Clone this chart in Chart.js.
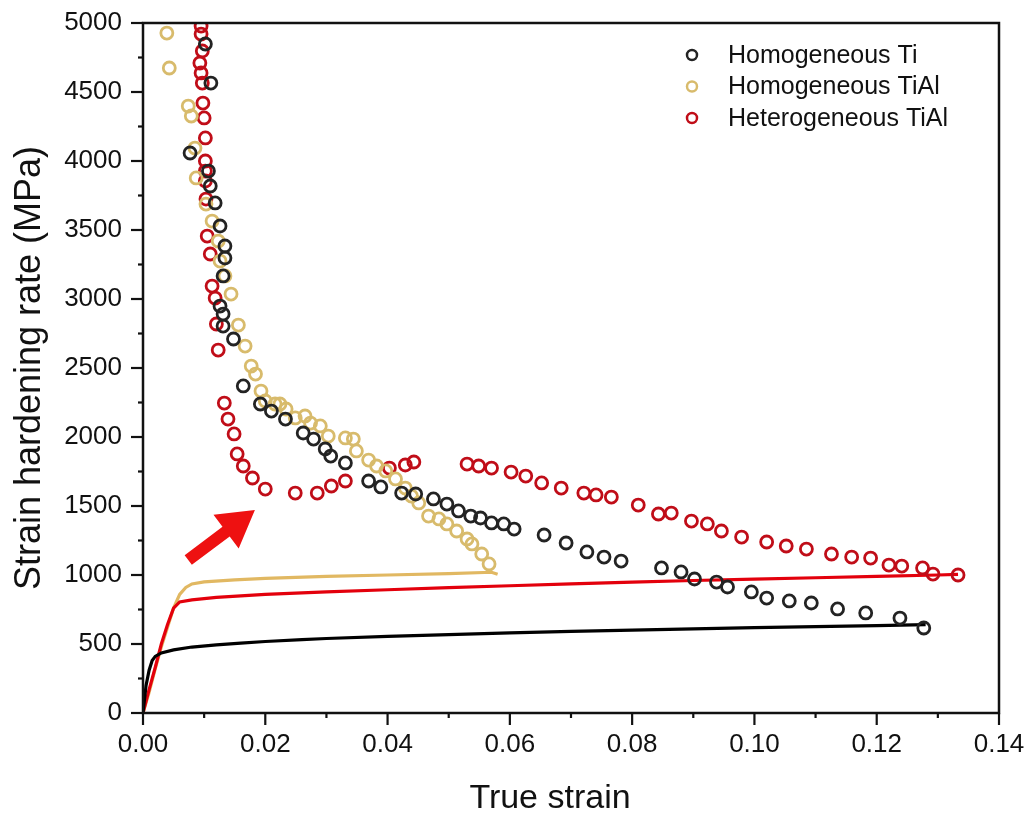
<!DOCTYPE html>
<html>
<head>
<meta charset="utf-8">
<script src="https://cdn.jsdelivr.net/npm/chart.js@4.4.1/dist/chart.umd.min.js"></script>
<style>
  html, body { margin: 0; padding: 0; background: #fff; }
  #wrap { width: 1030px; height: 818px; }
</style>
</head>
<body>
<div id="wrap"><canvas id="chart" width="1030" height="818"></canvas></div>
<script>
// ─── DATA ─────────────────────────────────────────────────────────────────────
// Strain hardening rate, open circles
const tiStrain = [0.0102,0.0111,0.0077,0.0107,0.0110,0.0118,0.0126,0.0134,0.0134,0.0131,0.0126,0.0131,0.0131,0.0148,
  0.0164,0.0192,0.0210,0.0233,0.0262,0.0279,0.0298,0.0307,0.0331,0.0369,0.0389,0.0423,0.0446,0.0475,0.0497,0.0516,
  0.0536,0.0552,0.0570,0.0590,0.0607,0.0656,0.0692,0.0726,0.0754,0.0782,0.0848,0.0880,0.0902,0.0938,0.0956,0.0995,
  0.1020,0.1057,0.1093,0.1136,0.1182,0.1238,0.1277];
const tiRate = [4848,4565,4058,3927,3819,3696,3529,3384,3297,3167,2949,2891,2804,2710,
  2370,2239,2188,2130,2029,1985,1913,1862,1812,1681,1638,1594,1587,1551,1514,1464,
  1427,1413,1377,1370,1333,1290,1232,1167,1130,1101,1051,1022,971,949,913,877,
  833,812,797,754,725,688,616];

const tialStrain = [0.0039,0.0043,0.0074,0.0079,0.0085,0.0087,0.0103,0.0113,0.0123,0.0126,0.0134,0.0144,0.0156,0.0167,
  0.0177,0.0184,0.0193,0.0200,0.0216,0.0224,0.0234,0.0249,0.0265,0.0274,0.0290,0.0303,0.0331,0.0344,0.0349,0.0369,
  0.0382,0.0397,0.0413,0.0429,0.0439,0.0451,0.0467,0.0484,0.0497,0.0513,0.0530,0.0538,0.0554,0.0566];
const tialRate = [4927,4674,4398,4326,4094,3877,3688,3565,3420,3275,3167,3036,2811,2659,
  2514,2456,2333,2261,2239,2239,2203,2138,2152,2101,2080,2007,1993,1985,1899,1833,
  1790,1754,1696,1630,1572,1522,1427,1406,1370,1319,1261,1225,1152,1080];

const hetStrain = [0.0095,0.0095,0.0097,0.0093,0.0095,0.0097,0.0098,0.0100,0.0102,0.0102,0.0102,0.0102,0.0103,0.0105,
  0.0110,0.0113,0.0118,0.0120,0.0123,0.0133,0.0139,0.0149,0.0154,0.0164,0.0179,0.0200,0.0249,0.0285,0.0308,0.0331,
  0.0403,0.0429,0.0443,0.0530,0.0549,0.0570,0.0602,0.0626,0.0652,0.0684,0.0721,0.0741,0.0766,0.0810,0.0843,0.0864,
  0.0897,0.0923,0.0946,0.0979,0.1020,0.1052,0.1085,0.1126,0.1159,0.1190,0.1220,0.1241,0.1275,0.1292,0.1333];
const hetRate = [4978,4920,4797,4710,4638,4565,4420,4312,4167,4000,3927,3855,3724,3456,
  3326,3094,3007,2819,2630,2246,2130,2022,1877,1790,1703,1623,1594,1594,1645,1681,
  1775,1797,1819,1804,1790,1775,1746,1717,1667,1630,1594,1580,1565,1507,1442,1449,
  1391,1370,1319,1275,1239,1210,1188,1152,1130,1123,1072,1065,1051,1007,1000];

// True stress-strain curves, solid lines
const tiCurveStrain = [0,0.0005,0.001,0.0015,0.002,0.003,0.005,0.008,0.012,0.016,0.02,0.026,0.03,0.04,0.05,0.06,
  0.07,0.08,0.09,0.10,0.11,0.12,0.128];
const tiCurveStress = [0,200,310,380,410,435,457,478,493,507,518,532,540,555,568,580,
  591,601,610,618,626,633,640];

const tialCurveStrain = [0,0.001,0.002,0.003,0.004,0.005,0.006,0.007,0.008,0.01,0.015,0.02,0.03,0.04,0.05,0.057,0.058];
const tialCurveStress = [0,150,320,480,620,760,860,910,935,950,965,975,990,1000,1010,1020,1005];

const hetCurveStrain = [0,0.001,0.002,0.003,0.004,0.005,0.006,0.008,0.012,0.02,0.03,0.04,0.05,0.06,0.07,0.08,
  0.09,0.10,0.11,0.12,0.13,0.1333];
const hetCurveStress = [0,170,330,500,640,760,805,820,838,860,878,893,908,922,935,948,
  960,970,980,990,1000,1005];

const SERIES_LABELS = ['Homogeneous Ti', 'Homogeneous TiAl', 'Heterogeneous TiAl'];
const X_TICKS = { min: 0, max: 0.14, step: 0.01 };
const Y_TICKS = { min: 0, max: 5000, step: 250 };

// red arrow pointing at the dip of the heterogeneous curve (strain, MPa)
const arrowTail = [0.0074, 1109];
const arrowHead = [0.0183, 1471];

// ─── HELPERS ──────────────────────────────────────────────────────────────────
const FONT = '"Liberation Sans", Arial, Helvetica, sans-serif';
const COL_TI = '#232323';
const COL_TIAL = '#d8bb6c';
const COL_HET = '#c00d18';

function pts(xs, ys) {
  return xs.map((x, i) => ({ x, y: ys[i] }));
}

function circles(label, xs, ys, color) {
  return {
    label,
    data: pts(xs, ys),
    showLine: false,
    pointStyle: 'circle',
    pointRadius: 6,
    pointBorderWidth: 2.8,
    pointBorderColor: color,
    pointBackgroundColor: 'rgba(255,255,255,0)',
    legendMark: color
  };
}

function curve(xs, ys, color) {
  return {
    label: '',
    data: pts(xs, ys),
    showLine: true,
    borderColor: color,
    borderWidth: 3.2,
    pointRadius: 0,
    tension: 0
  };
}

// frame box + long/short outward ticks
const frameTicks = {
  id: 'frameTicks',
  afterDraw(chart) {
    const { ctx, chartArea: a, scales: { x, y } } = chart;
    ctx.save();
    ctx.strokeStyle = '#111';
    ctx.lineWidth = 2.5;
    ctx.strokeRect(a.left, a.top, a.right - a.left, a.bottom - a.top);
    ctx.lineWidth = 2.2;
    x.ticks.forEach(t => {
      const px = x.getPixelForValue(t.value);
      const len = t.label ? 12 : 5;
      ctx.beginPath(); ctx.moveTo(px, a.bottom); ctx.lineTo(px, a.bottom + len); ctx.stroke();
    });
    y.ticks.forEach(t => {
      const py = y.getPixelForValue(t.value);
      const len = t.label ? 12 : 5;
      ctx.beginPath(); ctx.moveTo(a.left, py); ctx.lineTo(a.left - len, py); ctx.stroke();
    });
    // x axis title, sits a little left of the plot centre in the original
    ctx.fillStyle = '#111';
    ctx.font = '34px ' + FONT;
    ctx.textAlign = 'center';
    ctx.textBaseline = 'middle';
    ctx.fillText('True strain', 550, 799);
    ctx.restore();
  }
};

const arrowMark = {
  id: 'arrowMark',
  afterDatasetsDraw(chart) {
    const { ctx, scales: { x, y } } = chart;
    const x0 = x.getPixelForValue(arrowTail[0]), y0 = y.getPixelForValue(arrowTail[1]);
    const x1 = x.getPixelForValue(arrowHead[0]), y1 = y.getPixelForValue(arrowHead[1]);
    const ang = Math.atan2(y1 - y0, x1 - x0);
    const len = Math.hypot(x1 - x0, y1 - y0);
    const headLen = 36, headHalf = 21, shaftHalf = 6;
    ctx.save();
    ctx.translate(x0, y0);
    ctx.rotate(ang);
    ctx.fillStyle = '#ee1111';
    ctx.beginPath();
    ctx.moveTo(0, -shaftHalf);
    ctx.lineTo(len - headLen, -shaftHalf);
    ctx.lineTo(len - headLen, -headHalf);
    ctx.lineTo(len, 0);
    ctx.lineTo(len - headLen, headHalf);
    ctx.lineTo(len - headLen, shaftHalf);
    ctx.lineTo(0, shaftHalf);
    ctx.closePath();
    ctx.fill();
    ctx.restore();
  }
};

// legend in the upper right corner of the plot
const insetLegend = {
  id: 'insetLegend',
  afterDraw(chart) {
    const ctx = chart.ctx;
    const rows = chart.data.datasets.filter(d => d.legendMark);
    ctx.save();
    ctx.font = '25px ' + FONT;
    ctx.textBaseline = 'middle';
    ctx.fillStyle = '#111';
    rows.forEach((d, i) => {
      const cy = 55 + i * 31.5;
      ctx.beginPath();
      ctx.arc(692, cy, 5, 0, Math.PI * 2);
      ctx.lineWidth = 2.5;
      ctx.strokeStyle = d.legendMark;
      ctx.stroke();
      ctx.fillText(d.label, 728, cy + 1);
    });
    ctx.restore();
  }
};

// invisible tick marks push the labels out without padding the chart area
const hiddenGrid = len => ({
  display: true,
  drawOnChartArea: false,
  drawTicks: true,
  tickLength: len,
  tickColor: 'rgba(0,0,0,0)'
});

// ─── CHART ────────────────────────────────────────────────────────────────────
new Chart(document.getElementById('chart'), {
  type: 'scatter',
  data: {
    datasets: [
      circles(SERIES_LABELS[0], tiStrain, tiRate, COL_TI),
      circles(SERIES_LABELS[1], tialStrain, tialRate, COL_TIAL),
      circles(SERIES_LABELS[2], hetStrain, hetRate, COL_HET),
      curve(tiCurveStrain, tiCurveStress, '#000000'),
      curve(hetCurveStrain, hetCurveStress, '#e3000c'),
      curve(tialCurveStrain, tialCurveStress, '#e1b862')
    ]
  },
  options: {
    responsive: false,
    animation: false,
    layout: { padding: { top: 23, right: 31, left: 0, bottom: 0 } },
    plugins: {
      legend: { display: false },
      tooltip: { enabled: false }
    },
    scales: {
      x: {
        type: 'linear',
        min: X_TICKS.min,
        max: X_TICKS.max,
        grid: hiddenGrid(16),
        border: { display: false },
        ticks: {
          stepSize: X_TICKS.step,
          autoSkip: false,
          maxRotation: 0,
          padding: 0,
          color: '#111',
          font: { family: FONT, size: 26 },
          callback: v => Math.round(v * 100) % 2 === 0 ? v.toFixed(2) : ''
        },
        afterFit: s => { s.height = 105; }
      },
      y: {
        min: Y_TICKS.min,
        max: Y_TICKS.max,
        grid: hiddenGrid(21),
        border: { display: false },
        ticks: {
          stepSize: Y_TICKS.step,
          autoSkip: false,
          padding: 0,
          color: '#111',
          font: { family: FONT, size: 26 },
          callback: v => v % 500 === 0 ? String(v) : ''
        },
        title: {
          display: true,
          text: 'Strain hardening rate (MPa)',
          color: '#111',
          font: { family: FONT, size: 36 },
          padding: { top: 8, bottom: 0 }
        },
        afterFit: s => { s.width = 143; }
      }
    }
  },
  plugins: [arrowMark, frameTicks, insetLegend]
});
</script>
</body>
</html>
